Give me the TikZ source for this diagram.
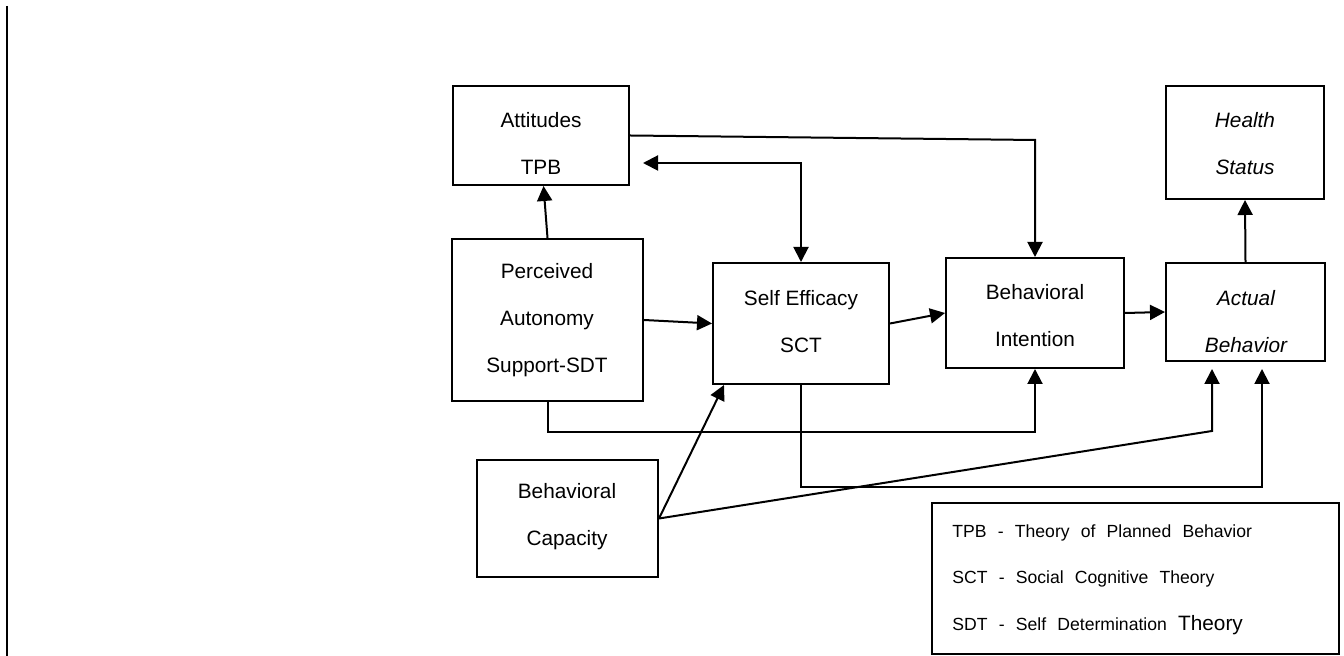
\documentclass[tikz,border=0pt]{standalone}
\usepackage{fontspec}
\setmainfont{Liberation Sans}
\usetikzlibrary{arrows.meta,calc}
\newcommand{\legspaces}{\spaceskip=5.6pt plus 1pt\relax}
\begin{document}
\begin{tikzpicture}[x=0.5pt,y=-0.5pt,
  box/.style={draw, line width=1pt, rectangle, inner sep=0pt},
  txt/.style={align=center, inner sep=0pt, font=\fontsize{10.4}{23.5}\selectfont},
  legtxt/.style={align=left, inner sep=0pt, font=\fontsize{8.8}{23.25}\selectfont},
  conn/.style={line width=1pt},
  arr/.style={conn, -{Triangle[length=7.5pt,width=7.5pt]}},
  darr/.style={conn, {Triangle[length=7.5pt,width=7.5pt]}-{Triangle[length=7.5pt,width=7.5pt]}},
]
\useasboundingbox (0,0) rectangle (1344,656);
\fill[white] (0,0) rectangle (1344,656);
% left margin rule
\draw[line width=1pt] (7,6) -- (7,656);

% boxes
\node[box, minimum width=88pt, minimum height=49.5pt] (att) at (541,135.5) {};
\node[box, minimum width=95.5pt, minimum height=81pt] (pas) at (547.5,320) {};
\node[box, minimum width=88pt, minimum height=60.5pt] (se) at (801,323.5) {};
\node[box, minimum width=89pt, minimum height=55pt] (bi) at (1035,313) {};
\node[box, minimum width=79.5pt, minimum height=49pt] (ab) at (1245.5,312) {};
\node[box, minimum width=79pt, minimum height=56.5pt] (hs) at (1245,142.5) {};
\node[box, minimum width=90.5pt, minimum height=58.5pt] (bc) at (567.5,518.5) {};
\node[box, minimum width=203.5pt, minimum height=75.5pt] (leg) at (1135.5,578.5) {};

% texts
\node[txt] (att-t) at (541,143) {Attitudes\\TPB};
\node[txt] (pas-t) at (547,320) {Perceived\\Autonomy\\Support-SDT};
\node[txt] (se-t) at (801,322) {Self Efficacy\\SCT};
\node[txt] (bi-t) at (1035,315.5) {Behavioral\\Intention};
\node[txt] (ab-t) at (1246,321.5) {\itshape Actual\\\itshape Behavior};
\node[txt] (hs-t) at (1245,143.5) {\itshape Health\\\itshape Status};
\node[txt] (bc-t) at (567,516.5) {Behavioral\\Capacity};
\node[legtxt, anchor=west] (leg-t) at (952,579.5) {\legspaces TPB - Theory of Planned Behavior\\\legspaces SCT - Social Cognitive Theory\\\legspaces SDT - Self Determination {\fontsize{10.4}{23.25}\selectfont Theory}};

% helper coordinates
\coordinate (dA) at (643,163);
\coordinate (k1) at (1035,140);
\coordinate (k2) at (1212,431);
\coordinate (t1) at (1212,369);
\coordinate (t2) at (1262,369);

% connectors
\draw[arr] (pas.north) -- ([xshift=-2pt]att.south -| pas.north);
\draw[arr] (att.east) -- (k1) -- (bi.north);
\draw[darr] (dA) -- (dA -| se.north) -- (se.north);
\draw[arr] (pas.east) -- (se.west);
\draw[arr] (se.east) -- (bi.west);
\draw[arr] (bi.east) -- (ab.west);
\draw[arr] (ab.north) -- (hs.south);
\draw[arr] (pas.south) -- ++(0,30) -| (bi.south);
\draw[arr] (bc.east) -- ([xshift=6pt]se.south west);
\draw[arr] (bc.east) -- (k2) -- (t1);
\draw[arr] (se.south) -- ++(0,102) -| (t2);
\end{tikzpicture}
\end{document}
